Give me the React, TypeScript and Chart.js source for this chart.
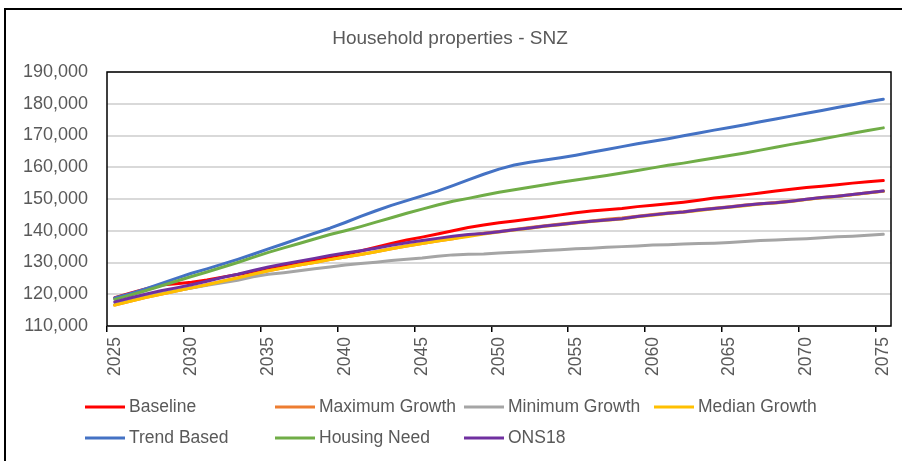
import React, { useEffect, useRef } from 'react';
import { Chart, registerables } from 'chart.js';

Chart.register(...registerables);

const years = [
  '2025', '2026', '2027', '2028', '2029', '2030', '2031', '2032', '2033', '2034',
  '2035', '2036', '2037', '2038', '2039', '2040', '2041', '2042', '2043', '2044',
  '2045', '2046', '2047', '2048', '2049', '2050', '2051', '2052', '2053', '2054',
  '2055', '2056', '2057', '2058', '2059', '2060', '2061', '2062', '2063', '2064',
  '2065', '2066', '2067', '2068', '2069', '2070', '2071', '2072', '2073', '2074', '2075',
];

const baseline = [
  118900, 120300, 121700, 122900, 123300, 123800, 124500, 125400, 126200, 127100,
  127900, 128900, 129800, 130700, 131700, 132600, 133600, 134800, 136000, 137100,
  138000, 139000, 140000, 141000, 141800, 142500, 143100, 143700, 144300, 145000,
  145700, 146200, 146600, 147000, 147600, 148000, 148500, 149000, 149600, 150300,
  150800, 151300, 151900, 152500, 153100, 153600, 154000, 154500, 155000, 155400, 155800,
];

const maximumGrowth = [
  116600, 117800, 119000, 120000, 121000, 122000, 123000, 124100, 125100, 126300,
  127400, 128300, 129200, 130000, 130900, 131700, 132500, 133400, 134300, 135200,
  136000, 136800, 137500, 138500, 139200, 139800, 140400, 141000, 141600, 142100,
  142600, 143100, 143600, 144000, 144600, 145100, 145600, 146000, 146600, 147100,
  147600, 148100, 148500, 148900, 149400, 149900, 150500, 150900, 151400, 152000, 152500,
];

const minimumGrowth = [
  116800, 118000, 119200, 120300, 121200, 122000, 122800, 123600, 124400, 125500,
  126300, 126800, 127400, 128000, 128600, 129200, 129700, 130100, 130600, 131000,
  131400, 132000, 132400, 132600, 132700, 133000, 133200, 133500, 133800, 134000,
  134300, 134500, 134800, 135000, 135200, 135500, 135600, 135800, 136000, 136100,
  136300, 136600, 136900, 137100, 137300, 137500, 137800, 138100, 138300, 138600, 138900,
];

const medianGrowth = [
  116600, 117800, 119000, 120000, 121000, 122000, 123000, 124100, 125100, 126300,
  127400, 128300, 129200, 130000, 130900, 131700, 132500, 133400, 134300, 135200,
  136000, 136800, 137500, 138200, 139000, 139600, 140200, 140800, 141400, 141900,
  142400, 142900, 143300, 143700, 144400, 144900, 145400, 145800, 146400, 146900,
  147400, 147900, 148400, 148700, 149200, 149800, 150400, 150800, 151300, 151900, 152400,
];

const trendBased = [
  118800, 120200, 121700, 123300, 125000, 126600, 128000, 129500, 131000, 132600,
  134300, 135900, 137600, 139200, 140800, 142600, 144500, 146300, 148000, 149500,
  151000, 152500, 154200, 156000, 157800, 159400, 160700, 161600, 162300, 163000,
  163800, 164700, 165600, 166500, 167400, 168200, 169000, 169900, 170800, 171700,
  172500, 173400, 174300, 175200, 176100, 177000, 177900, 178800, 179700, 180600, 181400,
];

const housingNeed = [
  118400, 119700, 121100, 122600, 124100, 125600, 127000, 128500, 130000, 131600,
  133200, 134600, 136000, 137400, 138800, 140000, 141300, 142700, 144100, 145500,
  146800, 148100, 149300, 150200, 151200, 152100, 152900, 153700, 154500, 155300,
  156000, 156700, 157400, 158200, 159000, 159800, 160600, 161300, 162100, 162900,
  163700, 164500, 165400, 166300, 167200, 168000, 168900, 169800, 170700, 171600, 172400,
];

const ons18 = [
  117600, 118800, 120000, 121100, 122000, 123000, 124100, 125300, 126300, 127500,
  128600, 129500, 130400, 131300, 132200, 133000, 133700, 134500, 135400, 136200,
  136900, 137600, 138300, 138800, 139100, 139700, 140300, 140900, 141500, 142000,
  142500, 143000, 143400, 143800, 144500, 145000, 145500, 145900, 146500, 147000,
  147500, 148000, 148500, 148800, 149300, 149900, 150500, 150900, 151400, 152000, 152500,
];

const seriesNames = [
  'Baseline', 'Maximum Growth', 'Minimum Growth', 'Median Growth',
  'Trend Based', 'Housing Need', 'ONS18',
];
const seriesValues = [baseline, maximumGrowth, minimumGrowth, medianGrowth, trendBased, housingNeed, ons18];
const seriesColors = ['#FF0000', '#ED7D31', '#A5A5A5', '#FFC000', '#4472C4', '#70AD47', '#7030A0'];

const FONT = '"Liberation Sans", Arial, sans-serif';
const TEXT = '#595959';

const framePlugin = {
  id: 'plotFrame',
  beforeDatasetsDraw(chart: any) {
    const { ctx, chartArea } = chart;
    const { left, top, right, bottom } = chartArea;
    ctx.save();
    ctx.strokeStyle = '#000000';
    ctx.lineWidth = 1.5;
    ctx.strokeRect(left, top, right - left, bottom - top);
    ctx.restore();
  },
};

const gridLegendPlugin = {
  id: 'gridLegend',
  afterDraw(chart: any) {
    const ctx = chart.ctx;
    const cols = [85, 275, 464, 654];
    const rows = [407, 438];
    chart.data.datasets.forEach((ds: any, i: number) => {
      const x = cols[i % 4];
      const y = rows[Math.floor(i / 4)];
      ctx.save();
      ctx.strokeStyle = ds.borderColor;
      ctx.lineWidth = 3;
      ctx.beginPath();
      ctx.moveTo(x, y);
      ctx.lineTo(x + 40, y);
      ctx.stroke();
      ctx.fillStyle = TEXT;
      ctx.font = `17.5px ${FONT}`;
      ctx.textBaseline = 'middle';
      ctx.textAlign = 'left';
      ctx.fillText(ds.label, x + 44, y);
      ctx.restore();
    });
  },
};

export default function App() {
  const canvasRef = useRef<HTMLCanvasElement | null>(null);

  useEffect(() => {
    if (!canvasRef.current) return;
    const chart = new Chart(canvasRef.current, {
      type: 'line',
      data: {
        labels: years,
        datasets: seriesNames.map((name, i) => ({
          label: name,
          data: seriesValues[i],
          borderColor: seriesColors[i],
          backgroundColor: seriesColors[i],
          borderWidth: 3,
          pointRadius: 0,
          pointHoverRadius: 0,
          tension: 0,
          fill: false,
          borderCapStyle: 'round',
          borderJoinStyle: 'round',
          order: seriesNames.length - i,
        })),
      },
      options: {
        responsive: false,
        animation: false,
        devicePixelRatio: 1,
        layout: { padding: { top: 0, left: 4.5, right: 6.5, bottom: 75 } },
        plugins: {
          legend: { display: false },
          tooltip: { enabled: false },
          title: {
            display: true,
            text: 'Household properties - SNZ',
            color: TEXT,
            font: { family: FONT, size: 19, weight: 'normal', lineHeight: 1.2 },
            padding: { top: 27, bottom: 22.2 },
          },
        },
        scales: {
          x: {
            type: 'category',
            offset: true,
            border: { display: false },
            grid: {
              offset: true,
              drawOnChartArea: false,
              drawTicks: true,
              tickLength: 6,
              lineWidth: 1.5,
              color: (c: any) => (c.index % 5 === 0 ? '#000000' : 'rgba(0,0,0,0)'),
            },
            ticks: {
              autoSkip: false,
              maxRotation: 90,
              minRotation: 90,
              padding: 5,
              color: TEXT,
              font: { family: FONT, size: 17.5 },
              callback: (_v: any, idx: number) => (idx % 5 === 0 ? years[idx] : ''),
            },
            afterFit: (scale: any) => {
              scale.height = 60;
              scale.paddingLeft = 0;
              scale.paddingRight = 11;
            },
          },
          y: {
            min: 110000,
            max: 190000,
            border: { display: false },
            grid: {
              drawTicks: false,
              color: '#D9D9D9',
              lineWidth: 2,
            },
            ticks: {
              stepSize: 10000,
              padding: 19,
              color: TEXT,
              font: { family: FONT, size: 18 },
              callback: (v: any) => Number(v).toLocaleString('en-US'),
            },
            afterFit: (scale: any) => {
              scale.width = 102.5;
            },
          },
        },
      },
      plugins: [framePlugin, gridLegendPlugin],
    } as any);
    return () => chart.destroy();
  }, []);

  return (
    <div>
      <canvas
        ref={canvasRef}
        width={902}
        height={461}
        style={{ position: 'fixed', left: 0, top: 0, width: 902, height: 461, display: 'block' }}
      />
      <div
        style={{
          position: 'fixed',
          left: 4,
          top: 8,
          width: 900,
          height: 455,
          borderTop: '2px solid #000',
          borderLeft: '2px solid #000',
          pointerEvents: 'none',
        }}
      />
    </div>
  );
}
